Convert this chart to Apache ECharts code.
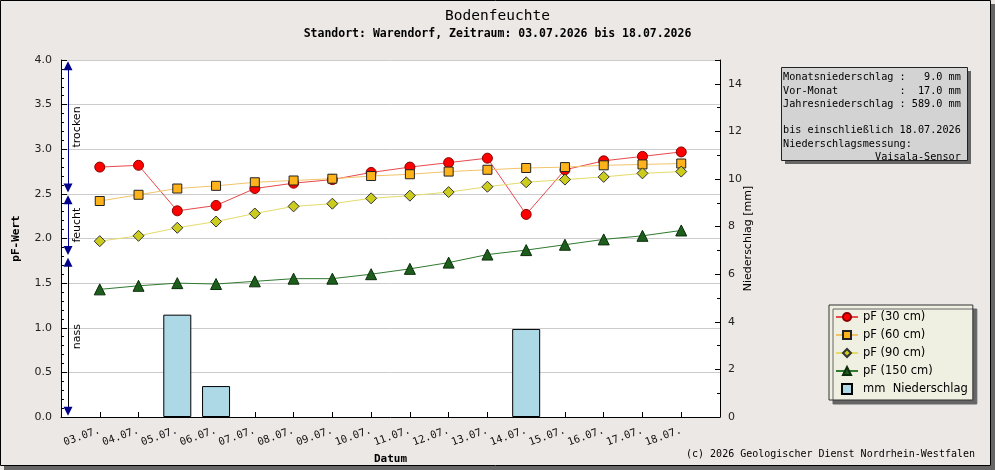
<!DOCTYPE html>
<html>
<head>
<meta charset="utf-8">
<title>Bodenfeuchte</title>
<script src="https://cdn.jsdelivr.net/npm/echarts@6/dist/echarts.min.js"></script>
<style>
  html, body { margin: 0; padding: 0; background: #fff; }
  #chart { width: 995px; height: 470px; }
</style>
</head>
<body>
<div id="chart"></div>
<script>
// Datum (x-Achse)
const dates = ['03.07.', '04.07.', '05.07.', '06.07.', '07.07.', '08.07.', '09.07.', '10.07.',
  '11.07.', '12.07.', '13.07.', '14.07.', '15.07.', '16.07.', '17.07.', '18.07.']

// pF-Werte je Tiefe
const pf30 = [2.80, 2.82, 2.31, 2.37, 2.56, 2.62, 2.66, 2.74, 2.80, 2.85, 2.90, 2.27, 2.77, 2.87, 2.92, 2.97]
const pf60 = [2.42, 2.49, 2.56, 2.59, 2.63, 2.65, 2.67, 2.70, 2.72, 2.75, 2.77, 2.79, 2.80, 2.82, 2.83, 2.84]
const pf90 = [1.97, 2.03, 2.12, 2.19, 2.28, 2.36, 2.39, 2.45, 2.48, 2.52, 2.58, 2.63, 2.66, 2.69, 2.73, 2.75]
const pf150 = [1.43, 1.47, 1.50, 1.49, 1.52, 1.55, 1.55, 1.60, 1.66, 1.73, 1.82, 1.87, 1.93, 1.99, 2.03, 2.09]

// Niederschlag [mm]
const rain = [0, 0, 4.3, 1.3, 0, 0, 0, 0, 0, 0, 0, 3.7, 0, 0, 0, 0]

// Bereiche an der pF-Achse
const zoneNames = ['trocken', 'feucht', 'nass']
const zoneLimits = [4.0, 2.5, 1.8, 0.0]

// Infobox
const infoLines = [
  'Monatsniederschlag :   9.0 mm',
  'Vor-Monat          :  17.0 mm',
  'Jahresniederschlag : 589.0 mm',
  '',
  'bis einschließlich 18.07.2026',
  'Niederschlagsmessung:',
  '               Vaisala-Sensor'
]

const titleText = 'Bodenfeuchte'
const subTitleText = 'Standort: Warendorf, Zeitraum: 03.07.2026 bis 18.07.2026'
const copyrightText = '(c) 2026 Geologischer Dienst Nordrhein-Westfalen'

const MONO = '"DejaVu Sans Mono", "Liberation Mono", monospace'
const SANS = '"DejaVu Sans", "Liberation Sans", sans-serif'

const chart = echarts.init(document.getElementById('chart'), null, { renderer: 'canvas' })

const pairs = arr => arr.map((v, i) => [i, v])

// Pfeile fuer trocken / feucht / nass
const ARROW_X = -0.82
const OFF = 0.065
const zoneLines = []
zoneNames.forEach((name, i) => {
  const top = zoneLimits[i] - OFF
  const bottom = zoneLimits[i + 1] + OFF
  zoneLines.push([
    { name: name, coord: [ARROW_X, bottom], lineStyle: { color: '#00008b' } },
    { coord: [ARROW_X, top] }
  ])
})
// nass: schwarze Linie, blaue Pfeilspitzen
zoneLines.push([
  { coord: [ARROW_X, zoneLimits[3] + OFF + 0.05], symbol: 'none', lineStyle: { color: '#000' }, label: { show: false } },
  { coord: [ARROW_X, zoneLimits[2] - OFF - 0.05], symbol: 'none' }
])

const lineSeries = (name, data, lineColor, symbol, size, fill, border) => ({
  name: name,
  type: 'line',
  yAxisIndex: 0,
  data: pairs(data),
  symbol: symbol,
  symbolSize: size,
  lineStyle: { color: lineColor, width: 1 },
  itemStyle: { color: fill, borderColor: border, borderWidth: 1 },
  z: 3
})

const option = {
  animation: false,
  backgroundColor: '#ece8e6',
  title: {
    text: titleText,
    subtext: subTitleText,
    left: 'center',
    top: 4,
    itemGap: 4,
    textStyle: { fontFamily: MONO, fontSize: 14.5, fontWeight: 'normal', color: '#000' },
    subtextStyle: { fontFamily: MONO, fontSize: 11.5, fontWeight: 'bold', color: '#000' }
  },
  legend: {
    orient: 'vertical',
    left: 829,
    top: 305,
    padding: [6, 5, 5, 6],
    itemWidth: 22,
    itemHeight: 10,
    itemGap: 6,
    backgroundColor: '#efefe2',
    borderColor: '#333',
    borderWidth: 1,
    shadowColor: '#666',
    shadowBlur: 0,
    shadowOffsetX: 4,
    shadowOffsetY: 4,
    textStyle: { fontFamily: SANS, fontSize: 11.5, color: '#000' },
    data: [
      'pF (30 cm)', 'pF (60 cm)', 'pF (90 cm)', 'pF (150 cm)',
      { name: 'mm  Niederschlag', icon: 'path://M0,0L10,0L10,10L0,10Z' }
    ]
  },
  grid: {
    left: 61,
    right: 275,
    top: 60,
    bottom: 50,
    show: true,
    backgroundColor: '#fff',
    borderWidth: 0
  },
  xAxis: {
    type: 'value',
    min: -1,
    max: 16,
    interval: 1,
    name: 'Datum',
    nameLocation: 'middle',
    nameGap: 37,
    nameMoveOverlap: false,
    nameTextStyle: { fontFamily: MONO, fontSize: 11, fontWeight: 'bold', color: '#000' },
    axisLine: { show: true, onZero: false, lineStyle: { color: '#000', width: 1 } },
    axisTick: { show: true, inside: true, length: 5, lineStyle: { color: '#000' } },
    splitLine: { show: false },
    axisLabel: {
      rotate: 20,
      margin: 13,
      fontFamily: MONO,
      fontSize: 10.5,
      color: '#111',
      showMinLabel: true,
      showMaxLabel: true,
      formatter: v => (v >= 0 && v < dates.length ? dates[v] : '')
    }
  },
  yAxis: [
    {
      type: 'value',
      position: 'left',
      min: 0,
      max: 4,
      interval: 0.5,
      name: 'pF-Wert',
      nameLocation: 'middle',
      nameRotate: 90,
      nameGap: 39,
      nameMoveOverlap: false,
      nameTextStyle: { fontFamily: MONO, fontSize: 11, fontWeight: 'bold', color: '#000' },
      axisLine: { show: true, onZero: false, lineStyle: { color: '#000', width: 1 } },
      axisTick: { show: true, inside: true, length: 6, lineStyle: { color: '#000' } },
      minorTick: { show: true, splitNumber: 5, length: 3, lineStyle: { color: '#000' } },
      splitLine: { show: true, lineStyle: { color: '#cccccc', width: 1 } },
      axisLabel: { margin: 9, fontFamily: SANS, fontSize: 11, color: '#222', formatter: v => v.toFixed(1) }
    },
    {
      type: 'value',
      position: 'right',
      min: 0,
      max: 15,
      interval: 2,
      name: 'Niederschlag [mm]',
      nameLocation: 'middle',
      nameRotate: 90,
      nameGap: 23,
      nameMoveOverlap: false,
      nameTextStyle: { fontFamily: SANS, fontSize: 11, color: '#000' },
      axisLine: { show: true, onZero: false, lineStyle: { color: '#000', width: 1 } },
      axisTick: { show: true, inside: true, length: 5, lineStyle: { color: '#000' } },
      minorTick: { show: true, splitNumber: 2, length: 3, lineStyle: { color: '#000' } },
      splitLine: { show: false },
      axisLabel: { margin: 8, fontFamily: SANS, fontSize: 11, color: '#222', formatter: v => (v > 14 ? '' : String(v)) }
    }
  ],
  graphic: [
    // Rahmen mit Schatten
    { type: 'rect', shape: { x: 991, y: 4, width: 4, height: 466 }, style: { fill: '#666' }, silent: true },
    { type: 'rect', shape: { x: 4, y: 466, width: 991, height: 4 }, style: { fill: '#666' }, silent: true },
    { type: 'rect', shape: { x: 0.5, y: 0.5, width: 990, height: 465 }, style: { fill: 'none', stroke: '#000', lineWidth: 1 }, silent: true },
    // Infobox
    { type: 'rect', shape: { x: 785, y: 71, width: 186, height: 93 }, style: { fill: '#666' }, silent: true },
    { type: 'rect', shape: { x: 781.5, y: 67.5, width: 186, height: 93 }, style: { fill: '#d3d3d3', stroke: '#222', lineWidth: 1 }, silent: true },
    {
      type: 'text',
      left: 783,
      top: 71,
      silent: true,
      style: { text: infoLines.join('\n'), font: '10.2px ' + MONO, fill: '#000', lineHeight: 13.3 }
    },
    // Copyright
    {
      type: 'text',
      right: 20,
      top: 449,
      silent: true,
      style: { text: copyrightText, font: '10px ' + MONO, fill: '#000' }
    }
  ],
  series: [
    {
      name: 'mm  Niederschlag',
      type: 'bar',
      yAxisIndex: 1,
      // Tage ohne Niederschlag werden nicht als Balken gezeichnet
      data: pairs(rain).filter(d => d[1] > 0),
      barWidth: 28,
      itemStyle: { color: '#add8e6', borderColor: '#000', borderWidth: 1 },
      z: 2
    },
    Object.assign(lineSeries('pF (30 cm)', pf30, '#e8494c', 'circle', 10, '#ff0000', '#8b0000'), {
      markLine: {
        silent: true,
        symbol: ['triangle', 'triangle'],
        symbolSize: 9,
        lineStyle: { width: 1, type: 'solid' },
        label: {
          show: true,
          position: 'insideMiddleBottom',
          distance: 4,
          formatter: '{b}',
          fontFamily: SANS,
          fontSize: 11,
          color: '#000'
        },
        data: zoneLines
      }
    }),
    lineSeries('pF (60 cm)', pf60, '#f2c46a', 'rect', 9, '#ffb31a', '#222'),
    lineSeries('pF (90 cm)', pf90, '#e4dc6a', 'diamond', 11, '#cccc1f', '#333'),
    lineSeries('pF (150 cm)', pf150, '#2f7a2f', 'triangle', 11, '#1d5e1d', '#0b2e0b')
  ]
}

chart.setOption(option)
</script>
</body>
</html>
